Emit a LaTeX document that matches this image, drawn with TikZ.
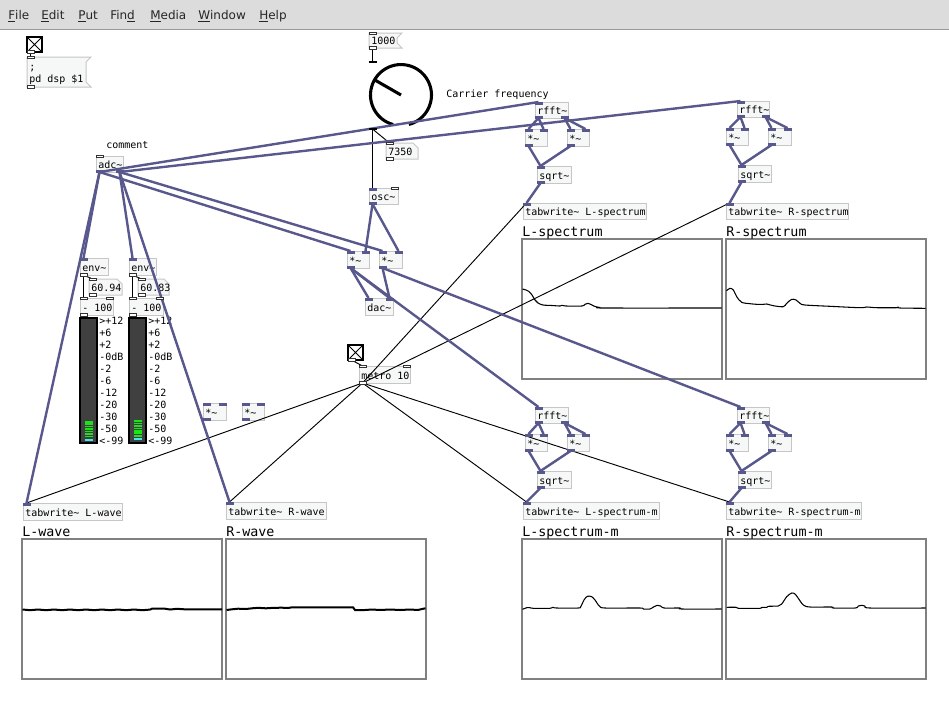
\documentclass[tikz,border=0pt]{standalone}
\usepackage{fontspec}
\setmainfont{DejaVu Sans}
\newfontfamily\pdmono{DejaVu Sans Mono}
\usetikzlibrary{calc}
\definecolor{sigcol}{RGB}{88,88,140}
\definecolor{boxfill}{RGB}{246,247,247}
\definecolor{boxline}{RGB}{198,198,198}
\definecolor{menubg}{RGB}{220,220,220}
\definecolor{vugray}{RGB}{64,64,64}
\definecolor{vugreen}{RGB}{24,228,24}
\definecolor{vucyan}{RGB}{70,230,240}
\definecolor{graphline}{RGB}{128,128,128}
\newcommand{\pdtl}{\textasciitilde}
\tikzset{
 objbox/.style={draw=boxline, fill=boxfill, line width=0.75pt},
 objtext/.style={inner sep=0pt, font=\pdmono\fontsize{7.5}{9}\selectfont},
 sigcord/.style={draw=sigcol, line width=1.8pt},
 ctlcord/.style={draw=black, line width=0.7pt},
 ctlport/.style={draw=black!80, fill=white, line width=0.55pt},
 graphbox/.style={draw=graphline, fill=white, line width=1pt},
 graphlabel/.style={inner sep=0pt, anchor=base west, font=\pdmono\fontsize{10}{12}\selectfont},
 curve/.style={draw=black, line width=0.8pt, line join=round},
 wave/.style={draw=black, line width=1.5pt},
 menutext/.style={inner sep=0pt, anchor=base west, font=\fontsize{9}{11}\selectfont, text=black!85},
 togglebox/.style={draw=black, fill=white, line width=1.1pt},
 knobline/.style={draw=black, line width=2.3pt},
 vulabel/.style={inner sep=0pt, anchor=base west, font=\pdmono\fontsize{7.5}{9}\selectfont},
}
% invisible node + port coordinates
\newcommand{\pdnode}[5]{%
  \node[inner sep=0pt, outer sep=0pt, anchor=north west, minimum width={(#4-#2)*0.75pt}, minimum height={(#5-#3)*0.75pt}] (#1) at (#2,#3) {};%
  \coordinate (#1-i1) at ($(#1.north west)+(3.5,0)$);%
  \coordinate (#1-i2) at ($(#1.north east)+(-3.5,0)$);%
  \coordinate (#1-o1) at ($(#1.south west)+(3.5,0)$);%
  \coordinate (#1-o2) at ($(#1.south east)+(-3.5,0)$);%
}
\newcommand{\pdobj}[6]{%
  \pdnode{#1}{#2}{#3}{#4}{#5}%
  \draw[objbox] (#1.north west) rectangle (#1.south east);%
  \node[objtext, anchor=base west] (#1-t) at ($(#1.south west)+(2,-4)$) {#6};%
}
\newcommand{\pdnum}[6]{%
  \pdnode{#1}{#2}{#3}{#4}{#5}%
  \draw[objbox] (#1.north west) -- ($(#1.north east)+(-5,0)$) -- ($(#1.north east)+(0,5)$) -- (#1.south east) -- (#1.south west) -- cycle;%
  \node[objtext, anchor=base west] (#1-t) at ($(#1.south west)+(2,-4)$) {#6};%
}
\newcommand{\pdmsgshape}[1]{%
  \draw[objbox] (#1.north west) -- ($(#1.north east)+(5,0)$) -- ($(#1.north east)+(0,5)$) -- ($(#1.south east)+(0,-5)$) -- ($(#1.south east)+(5,0)$) -- (#1.south west) -- cycle;%
}
\newcommand{\portSI}[1]{\fill[sigcol] ($(#1)+(-4,-0.5)$) rectangle ($(#1)+(4,2.5)$);}
\newcommand{\portSO}[1]{\fill[sigcol] ($(#1)+(-4,-2.5)$) rectangle ($(#1)+(4,0.8)$);}
\newcommand{\portCI}[1]{\draw[ctlport] ($(#1)+(-3.5,-1)$) rectangle ($(#1)+(3.5,1.5)$);}
\newcommand{\portCO}[1]{\draw[ctlport] ($(#1)+(-3.5,-1.5)$) rectangle ($(#1)+(3.5,1)$);}
\newcommand{\blockcords}[1]{%
  \draw[sigcord] (#1-rfft-o1) -- (#1-ma-i1);%
  \draw[sigcord] (#1-rfft-o1) -- (#1-ma-i2);%
  \draw[sigcord] (#1-rfft-o2) -- (#1-mb-i1);%
  \draw[sigcord] (#1-rfft-o2) -- (#1-mb-i2);%
  \draw[sigcord] (#1-ma-o1) -- (#1-sq-i1);%
  \draw[sigcord] (#1-mb-o1) -- (#1-sq-i1);%
  \draw[sigcord] (#1-sq-o1) -- (#1-tw-i1);%
}
\newcommand{\blockports}[1]{%
  \portSI{#1-rfft-i1}\portSO{#1-rfft-o1}\portSO{#1-rfft-o2}%
  \portSI{#1-ma-i1}\portSI{#1-ma-i2}\portSO{#1-ma-o1}%
  \portSI{#1-mb-i1}\portSI{#1-mb-i2}\portSO{#1-mb-o1}%
  \portSI{#1-sq-i1}\portSO{#1-sq-o1}%
  \portSI{#1-tw-i1}%
}
\begin{document}
\begin{tikzpicture}[x=0.75pt,y=-0.75pt]
\fill[white] (0,0) rectangle (949,718);
\useasboundingbox (0,0) rectangle (949,718);

% ---------- menu bar ----------
\fill[menubg] (0,0) rectangle (949,29);
\draw[draw=black!40, line width=0.75pt] (0,29.5) -- (949,29.5);
\node[menutext] (mFile) at (8,19) {\underline{F}ile};
\node[menutext] (mEdit) at (41,19) {\underline{E}dit};
\node[menutext] (mPut) at (78,19) {\underline{P}ut};
\node[menutext] (mFind) at (110,19) {Fin\underline{d}};
\node[menutext] (mMedia) at (150,19) {\underline{M}edia};
\node[menutext] (mWindow) at (198,19) {\underline{W}indow};
\node[menutext] (mHelp) at (259,19) {\underline{H}elp};

% ---------- graphs ----------
\pdnode{gLS}{522}{239}{722}{379}
\draw[graphbox] (gLS.north west) rectangle (gLS.south east);
\node[graphlabel] (gLS-l) at ($(gLS.north west)+(0,-3)$) {L-spectrum};
\pdnode{gRS}{726}{239}{926}{379}
\draw[graphbox] (gRS.north west) rectangle (gRS.south east);
\node[graphlabel] (gRS-l) at ($(gRS.north west)+(0,-3)$) {R-spectrum};
\pdnode{gLW}{22}{539}{222}{679}
\draw[graphbox] (gLW.north west) rectangle (gLW.south east);
\node[graphlabel] (gLW-l) at ($(gLW.north west)+(0,-3)$) {L-wave};
\pdnode{gRW}{226}{539}{426}{679}
\draw[graphbox] (gRW.north west) rectangle (gRW.south east);
\node[graphlabel] (gRW-l) at ($(gRW.north west)+(0,-3)$) {R-wave};
\pdnode{gLSm}{522}{539}{722}{679}
\draw[graphbox] (gLSm.north west) rectangle (gLSm.south east);
\node[graphlabel] (gLSm-l) at ($(gLSm.north west)+(0,-3)$) {L-spectrum-m};
\pdnode{gRSm}{726}{539}{926}{679}
\draw[graphbox] (gRSm.north west) rectangle (gRSm.south east);
\node[graphlabel] (gRSm-l) at ($(gRSm.north west)+(0,-3)$) {R-spectrum-m};

% curves
\draw[curve] plot[smooth, tension=0.5] coordinates {(522.5,289) (526,290) (529,291.5) (532,295) (535,300) (538,303) (543,305) (552,305.5) (560,306) (562,305.3) (566,306) (582,306) (585,304.3) (588,303.3) (591,304.5) (595,306.5) (600,307.5) (605,308) (721.5,308)};
\draw[curve] plot[smooth, tension=0.5] coordinates {(726.5,290.7) (730,288.3) (733.3,290) (736.7,296.7) (741.7,302.3) (750,303.7) (756.7,304.3) (763.3,304.3) (766.7,304) (773.3,305.7) (783.3,306.7) (786.7,303.3) (791.7,299.3) (796,300) (800,303.3) (805,305) (830,306.3) (860,307.7) (866.7,307) (876.7,307.7) (896.7,307.7) (898,307) (900,308) (925.5,308.3)};
\draw[curve] plot[smooth, tension=0.5] coordinates {(522.5,609.3) (526.7,607.7) (530,607.7) (533.3,608.3) (550,608.3) (552.7,607.3) (556.7,608) (578.3,608) (580.7,606.7) (584,600) (587.3,596.3) (591.7,596.7) (595,600) (599.3,606) (605,608) (640,608) (643.3,609) (650,609) (654,606.7) (657.3,605.3) (660.7,606) (664,608) (680,608) (681.7,609) (721.5,609)};
\draw[curve] plot[smooth, tension=0.5] coordinates {(726.5,607.3) (736.7,607.3) (738.3,608.3) (760,608.3) (761.7,607.3) (766.7,607.3) (768.3,606.3) (778.3,606) (781.7,604) (786.7,596.7) (791.7,593) (795,594) (798.3,598.3) (803.3,605) (810,607) (831.7,607) (833.3,608) (855,608) (858.3,606) (861.7,605.3) (865,606) (870,608) (925.5,608)};
\draw[wave] plot coordinates {(22.5,609.5) (30,610.2) (38,609.5) (46,610.2) (54,609.5) (62,610.2) (70,609.5) (78,610.2) (86,609.5) (94,610.2) (102,609.5) (110,610.2) (118,609.5) (126,610.2) (134,609.5) (142,610.2) (150,609.6) (152,608.7) (165,608.7) (170,609.5) (177,608.8) (186,609.4) (222,609.4)};
\draw[wave] plot coordinates {(226.5,610) (232,609.3) (238,608.7) (246,609) (252,608.3) (258,607.8) (266,608.3) (274,607.8) (282,607.7) (288,608) (292,607.3) (353,607.3) (355,610) (365,610) (372,609.5) (380,610) (390,609.5) (400,610) (410,609.5) (418,610) (422,609) (425.5,608.3)};

% ---------- top-left toggle and message ----------
\pdnode{tog1}{27}{37}{42}{52}
\draw[togglebox] (tog1.north west) rectangle (tog1.south east);
\draw[line width=0.6pt] (tog1.north west) -- (tog1.south east) (tog1.north east) -- (tog1.south west);
\pdnode{msg1}{27}{57}{86}{87}
\pdmsgshape{msg1}
\node[objtext, anchor=base west] (msg1-t1) at (29,70) {;};
\node[objtext, anchor=base west] (msg1-t2) at (29,82) {pd dsp \$1};

% ---------- knob section ----------
\pdnode{m1000}{369}{33}{397}{48}
\pdmsgshape{m1000}
\node[objtext, anchor=base west] (m1000-t) at ($(m1000.south west)+(2,-4)$) {1000};
\pdnode{knob}{369}{62}{433}{129}
\draw[knobline] (393.1,124.5) arc[start angle=105, end angle=435, radius=30.5];
\draw[knobline] (401,95) -- (374,79.5);
\node[objtext, anchor=base west] (carrier) at (446,97.5) {Carrier frequency};
\pdnum{n7350}{386}{143}{418}{159}{7350}
\pdobj{osc}{369}{188}{398}{204}{osc\pdtl}
\pdobj{mulA}{347}{251}{369}{268}{*\pdtl}
\pdobj{mulB}{379}{251}{402}{268}{*\pdtl}
\pdobj{dac}{365}{298}{393}{315}{dac\pdtl}

% ---------- adc and meters ----------
\node[objtext, anchor=base west] (comment) at (106,148) {comment};
\pdobj{adc}{96}{156}{123}{172}{adc\pdtl}
\pdobj{env1}{80}{258}{108}{275}{env\pdtl}
\pdobj{env2}{129}{258}{156}{275}{env\pdtl}
\pdnum{num1}{89}{279}{122}{295}{60.94}
\pdnum{num2}{138}{279}{169}{295}{60.83}
\pdobj{sub1}{80}{298}{113}{315}{- 100}
\pdobj{sub2}{129}{298}{163}{315}{- 100}
\pdnode{vu1}{80}{318}{97}{443}
\draw[fill=vugray, draw=black, line width=1.2pt] (vu1.north west) rectangle (vu1.south east);
\foreach \k in {0,...,6} {\fill[vugreen] (85,{420.8+\k*2.45}) rectangle (93,{422.5+\k*2.45});}
\fill[vucyan] (85,438.6) rectangle (93,440.6);
\pdnode{vu2}{129}{318}{146}{443}
\draw[fill=vugray, draw=black, line width=1.2pt] (vu2.north west) rectangle (vu2.south east);
\foreach \k in {0,...,6} {\fill[vugreen] (134,{420.2+\k*2.45}) rectangle (142,{421.9+\k*2.45});}
\fill[vucyan] (134,438.2) rectangle (142,440.2);
\foreach \lab [count=\n from 0] in {>+12,+6,+2,-0dB,-2,-6,-12,-20,-30,-50,<-99} {
  \node[vulabel] (vla\n) at (99,{324+\n*12}) {\lab};
  \node[vulabel] (vlb\n) at (148,{324+\n*12}) {\lab};
}
\pdobj{mulC}{203}{403}{226}{420}{*\pdtl}
\pdobj{mulD}{242}{403}{264}{420}{*\pdtl}
\pdobj{twLW}{23}{503}{122}{520}{tabwrite\pdtl{} L-wave}
\pdobj{twRW}{226}{502}{326}{519}{tabwrite\pdtl{} R-wave}

% ---------- metro ----------
\pdnode{tog2}{348}{345}{363}{360}
\draw[togglebox] (tog2.north west) rectangle (tog2.south east);
\draw[line width=0.6pt] (tog2.north west) -- (tog2.south east) (tog2.north east) -- (tog2.south west);
\pdobj{metro}{359}{366}{410}{383}{metro 10}

% ---------- spectrum blocks ----------
\pdobj{uL-rfft}{535}{102}{568}{118}{rfft\pdtl}
\pdobj{uL-ma}{525}{129}{547}{146}{*\pdtl}
\pdobj{uL-mb}{567}{129}{589}{146}{*\pdtl}
\pdobj{uL-sq}{537}{166}{571}{183}{sqrt\pdtl}
\pdobj{uL-tw}{523}{203}{646}{219}{tabwrite\pdtl{} L-spectrum}
\pdobj{uR-rfft}{737}{101}{769}{117}{rfft\pdtl}
\pdobj{uR-ma}{726}{128}{748}{145}{*\pdtl}
\pdobj{uR-mb}{768}{128}{791}{145}{*\pdtl}
\pdobj{uR-sq}{738}{165}{771}{182}{sqrt\pdtl}
\pdobj{uR-tw}{726}{203}{848}{219}{tabwrite\pdtl{} R-spectrum}
\pdobj{lL-rfft}{535}{407}{568}{423}{rfft\pdtl}
\pdobj{lL-ma}{525}{434}{547}{451}{*\pdtl}
\pdobj{lL-mb}{567}{434}{589}{451}{*\pdtl}
\pdobj{lL-sq}{537}{471}{571}{488}{sqrt\pdtl}
\pdobj{lL-tw}{523}{502}{659}{519}{tabwrite\pdtl{} L-spectrum-m}
\pdobj{lR-rfft}{737}{407}{769}{423}{rfft\pdtl}
\pdobj{lR-ma}{726}{434}{748}{451}{*\pdtl}
\pdobj{lR-mb}{768}{434}{791}{451}{*\pdtl}
\pdobj{lR-sq}{738}{471}{771}{488}{sqrt\pdtl}
\pdobj{lR-tw}{726}{502}{861}{519}{tabwrite\pdtl{} R-spectrum-m}

% ---------- control cords ----------
\draw[ctlcord] (tog1-o1) -- (msg1-i1);
\draw[ctlcord] (m1000-o1) -- (knob-i1);
\draw[ctlcord] (knob-o1) -- (osc-i1);
\draw[ctlcord] (knob-o1) -- (n7350-i1);
\draw[ctlcord] (env1-o1) -- (num1-i1);
\draw[ctlcord] (env1-o1) -- (sub1-i1);
\draw[ctlcord] (sub1-o1) -- (vu1-i1);
\draw[ctlcord] (env2-o1) -- (num2-i1);
\draw[ctlcord] (env2-o1) -- (sub2-i1);
\draw[ctlcord] (sub2-o1) -- (vu2-i1);
\draw[ctlcord] (tog2-o1) -- (metro-i1);
\draw[ctlcord] (metro-o1) -- (twLW-i1);
\draw[ctlcord] (metro-o1) -- (twRW-i1);
\draw[ctlcord] (metro-o1) -- (uL-tw-i1);
\draw[ctlcord] (metro-o1) -- (uR-tw-i1);
\draw[ctlcord] (metro-o1) -- (lL-tw-i1);
\draw[ctlcord] (metro-o1) -- (lR-tw-i1);

% ---------- signal cords ----------
\draw[sigcord] (adc-o1) -- (uL-rfft-i1);
\draw[sigcord] (adc-o2) -- (uR-rfft-i1);
\draw[sigcord] (adc-o1) -- (mulA-i1);
\draw[sigcord] (adc-o2) -- (mulB-i1);
\draw[sigcord] (adc-o1) -- (env1-i1);
\draw[sigcord] (adc-o2) -- (env2-i1);
\draw[sigcord] (adc-o1) -- (twLW-i1);
\draw[sigcord] (adc-o2) -- (twRW-i1);
\draw[sigcord] (osc-o1) -- (mulA-i2);
\draw[sigcord] (osc-o1) -- (mulB-i2);
\draw[sigcord] (mulA-o1) -- (dac-i1);
\draw[sigcord] (mulA-o1) -- (dac-i2);
\draw[sigcord] (mulB-o1) -- (dac-i2);
\draw[sigcord] (mulA-o1) -- (lL-rfft-i1);
\draw[sigcord] (mulB-o1) -- (lR-rfft-i1);
\blockcords{uL}
\blockcords{uR}
\blockcords{lL}
\blockcords{lR}

% ---------- ports ----------
\portCO{tog1-o1}
\portCI{msg1-i1}\portCO{msg1-o1}
\portCI{m1000-i1}\portCO{m1000-o1}
\draw[line width=1.3pt] ($(knob-i1)+(-4,0)$) -- ($(knob-i1)+(4,0)$);
\draw[line width=1.3pt] ($(knob-o1)+(-4,0)$) -- ($(knob-o1)+(4,0)$);
\portCI{n7350-i1}\portCO{n7350-o1}
\portSI{osc-i1}\portCI{osc-i2}\portSO{osc-o1}
\portSI{mulA-i1}\portSI{mulA-i2}\portSO{mulA-o1}
\portSI{mulB-i1}\portSI{mulB-i2}\portSO{mulB-o1}
\portSI{mulC-i1}\portSI{mulC-i2}\portSO{mulC-o1}
\portSI{mulD-i1}\portSI{mulD-i2}\portSO{mulD-o1}
\portSI{dac-i1}\portSI{dac-i2}
\portCI{adc-i1}\portSO{adc-o1}\portSO{adc-o2}
\portSI{env1-i1}\portCO{env1-o1}
\portSI{env2-i1}\portCO{env2-o1}
\portCI{num1-i1}\portCO{num1-o1}
\portCI{num2-i1}\portCO{num2-o1}
\portCI{sub1-i1}\portCI{sub1-i2}\portCO{sub1-o1}
\portCI{sub2-i1}\portCI{sub2-i2}\portCO{sub2-o1}
\portSI{twLW-i1}\portSI{twRW-i1}
\portCO{tog2-o1}
\portCI{metro-i1}\portCI{metro-i2}\portCO{metro-o1}
\blockports{uL}
\blockports{uR}
\blockports{lL}
\blockports{lR}
\end{tikzpicture}
\end{document}
